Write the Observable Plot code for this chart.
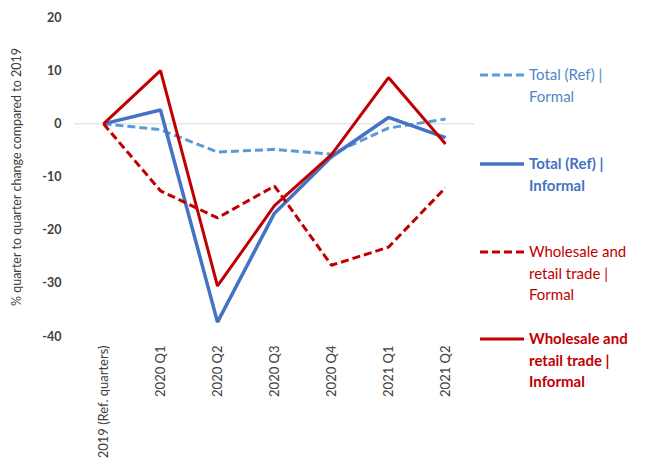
<!DOCTYPE html>
<html>
<head>
<meta charset="utf-8">
<script src="https://cdn.jsdelivr.net/npm/d3@7"></script>
<script src="https://cdn.jsdelivr.net/npm/@observablehq/plot@0.6"></script>
<style>
  html, body { margin: 0; padding: 0; background: #fff; }
  #wrap { position: relative; width: 651px; height: 470px; font-family: Lato, "Open Sans", sans-serif; }
  #legend { position: absolute; left: 0; top: 0; width: 651px; height: 470px; pointer-events: none; }
  .item { position: absolute; left: 480px; display: flex; align-items: flex-start; }
  .item svg { flex: none; margin-top: 0px; }
  .item span { font-size: 15px; line-height: 21.5px; margin-left: 5px; }
</style>
</head>
<body>
<div id="wrap"><div id="chart"></div><div id="legend"></div></div>
<script>
const categories = ["2019 (Ref. quarters)", "2020 Q1", "2020 Q2", "2020 Q3", "2020 Q4", "2021 Q1", "2021 Q2"];
const totalFormal = [0, -1.1, -5.3, -4.8, -5.7, -0.8, 0.9];
const totalInformal = [0, 2.6, -37.3, -16.8, -6.2, 1.2, -2.6];
const wrFormal = [0, -12.6, -17.7, -11.7, -26.6, -23.2, -12.0];
const wrInformal = [0, 10.0, -30.5, -15.4, -5.8, 8.7, -3.8];
const yTicks = [-40, -30, -20, -10, 0, 10, 20];
const yLabel = "% quarter to quarter change compared to 2019";

const series = [
  {name: "Total (Ref) | Formal", lines: ["Total (Ref) |", "Formal"], values: totalFormal, color: "#5B9BD5", text: "#4F86C6", dash: "8,4", width: 3, bold: false, top: 64},
  {name: "Total (Ref) | Informal", lines: ["Total (Ref) |", "Informal"], values: totalInformal, color: "#4472C4", text: "#4472C4", dash: null, width: 3.5, bold: true, top: 153},
  {name: "Wholesale and retail trade | Formal", lines: ["Wholesale and", "retail trade |", "Formal"], values: wrFormal, color: "#C00000", text: "#C00000", dash: "8,4", width: 3, bold: false, top: 241},
  {name: "Wholesale and retail trade | Informal", lines: ["Wholesale and", "retail trade |", "Informal"], values: wrInformal, color: "#C00000", text: "#C00000", dash: null, width: 3, bold: true, top: 328}
];

const data = series.flatMap(s => categories.map((c, i) => ({series: s.name, cat: c, value: s.values[i]})));

const chart = Plot.plot({
  width: 651,
  height: 470,
  marginLeft: 74,
  marginRight: 177,
  marginTop: 17,
  marginBottom: 134,
  style: {fontFamily: "Lato, 'Open Sans', sans-serif", color: "#404040", background: "#fff"},
  x: {type: "point", domain: categories, padding: 0.5, label: null},
  y: {domain: [-40, 20], ticks: yTicks, label: yLabel},
  marks: [
    Plot.ruleY([0], {stroke: "#d9d9d9", strokeWidth: 1}),
    Plot.axisY({ticks: yTicks, tickSize: 0, tickPadding: 13, fontSize: 12.5, fontWeight: "bold", tickFormat: d => String(d), label: null, fill: "#404040"}),
    Plot.axisY({ticks: [], tickSize: 0, fontSize: 12.5, label: yLabel, labelAnchor: "center", labelArrow: "none", labelOffset: 62, fill: "#404040"}),
    Plot.axisX({tickSize: 0, tickRotate: -90, tickPadding: 9, fontSize: 13, label: null, fill: "#404040"}),
    ...series.map(s => Plot.line(data.filter(d => d.series === s.name), {
      x: "cat", y: "value", stroke: s.color, strokeWidth: s.width,
      strokeDasharray: s.dash || undefined, strokeLinejoin: "miter", strokeLinecap: "butt"
    }))
  ]
});
document.getElementById("chart").appendChild(chart);

const legend = document.getElementById("legend");
series.forEach(s => {
  const item = document.createElement("div");
  item.className = "item";
  item.style.top = s.top + "px";
  const ns = "http://www.w3.org/2000/svg";
  const sv = document.createElementNS(ns, "svg");
  sv.setAttribute("width", 44); sv.setAttribute("height", 22);
  const ln = document.createElementNS(ns, "line");
  ln.setAttribute("x1", 0); ln.setAttribute("x2", 44);
  ln.setAttribute("y1", 11); ln.setAttribute("y2", 11);
  ln.setAttribute("stroke", s.color); ln.setAttribute("stroke-width", s.width);
  if (s.dash) ln.setAttribute("stroke-dasharray", s.dash);
  sv.appendChild(ln);
  item.appendChild(sv);
  const sp = document.createElement("span");
  sp.innerHTML = s.lines.join("<br>");
  sp.style.color = s.text;
  sp.style.fontWeight = s.bold ? "bold" : "normal";
  item.appendChild(sp);
  legend.appendChild(item);
});
</script>
</body>
</html>
